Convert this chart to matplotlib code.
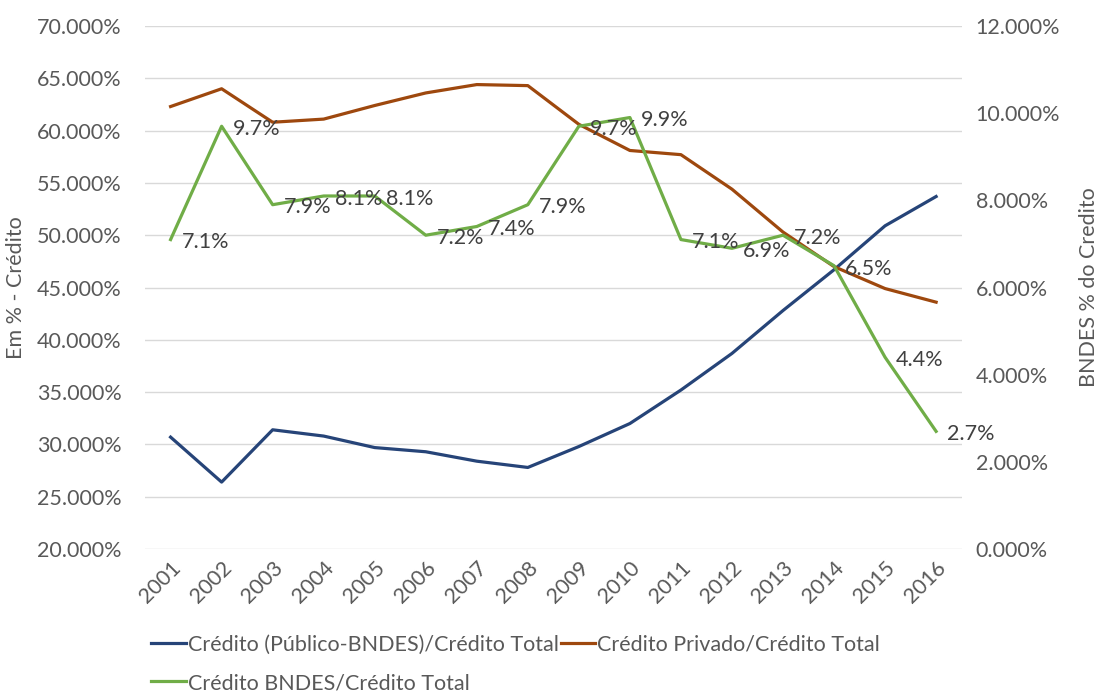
import numpy as np
import matplotlib.pyplot as plt
from matplotlib.ticker import FuncFormatter

# dados
anos = ['2001', '2002', '2003', '2004', '2005', '2006', '2007', '2008',
        '2009', '2010', '2011', '2012', '2013', '2014', '2015', '2016']
publico = [30.7, 26.4, 31.4, 30.8, 29.7, 29.3, 28.4, 27.8,
           29.8, 32.0, 35.2, 38.7, 42.8, 46.7, 50.9, 53.7]
privado = [62.3, 64.0, 60.8, 61.1, 62.4, 63.6, 64.4, 64.3,
           60.6, 58.1, 57.7, 54.4, 50.3, 47.0, 44.9, 43.6]
bndes = [7.1, 9.7, 7.9, 8.1, 8.1, 7.2, 7.4, 7.9,
         9.7, 9.9, 7.1, 6.9, 7.2, 6.5, 4.4, 2.7]

plt.rcParams['font.family'] = ['Lato', 'DejaVu Sans']
cinza = '#595959'
fs = 15.5

fig = plt.figure(figsize=(10.99, 6.95), dpi=100)
ax = fig.add_axes([0.132, 0.210, 0.743, 0.7526])
ax2 = ax.twinx()

x = np.arange(len(anos))
l1, = ax.plot(x, publico, color='#264478', lw=2.3, label='Crédito (Público-BNDES)/Crédito Total')
l2, = ax.plot(x, privado, color='#9E480E', lw=2.3, label='Crédito Privado/Crédito Total')
l3, = ax2.plot(x, bndes, color='#70AD47', lw=2.3, label='Crédito BNDES/Crédito Total')

for xi, v in zip(x, bndes):
    ax2.annotate(f'{v:.1f}%', (xi, v), xytext=(8, -2), textcoords='offset points',
                 va='center', ha='left', fontsize=fs, color='#404040')

ax.set_xlim(-0.5, len(anos) - 0.5)
ax.set_ylim(20, 70)
ax.set_yticks(np.arange(20, 71, 5))
ax2.set_ylim(0, 12)
ax2.set_yticks(np.arange(0, 13, 2))
fmt = FuncFormatter(lambda v, p: f'{v:.3f}%')
ax.yaxis.set_major_formatter(fmt)
ax2.yaxis.set_major_formatter(fmt)

ax.set_xticks(x)
ax.set_xticklabels(anos, rotation=45, ha='right', rotation_mode='anchor')

ax.grid(axis='y', color='#D9D9D9', lw=1)
ax.set_axisbelow(True)
for a in (ax, ax2):
    for s in a.spines.values():
        s.set_visible(False)
    a.tick_params(length=0, labelsize=fs, labelcolor=cinza)
ax.tick_params(axis='y', pad=17)
ax2.tick_params(axis='y', pad=10)
ax.tick_params(axis='x', pad=6)

ax.set_ylabel('Em % - Crédito', fontsize=fs, color=cinza, labelpad=8)
ax2.set_ylabel('BNDES % do Credito', fontsize=fs, color=cinza, labelpad=14)

# ordem por linhas: l1, l2 / l3
fig.legend(handles=[l1, l3, l2], loc='lower left', bbox_to_anchor=(0.12, -0.025),
           ncol=2, frameon=False, fontsize=fs, labelcolor=cinza,
           handlelength=1.6, handletextpad=0.1, columnspacing=0.1, labelspacing=0.85)

fig.savefig('out.png', dpi=100)
